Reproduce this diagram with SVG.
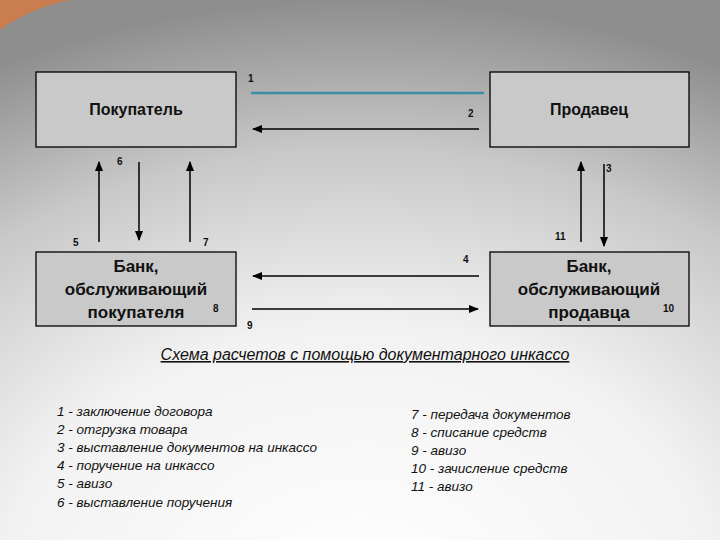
<svg xmlns="http://www.w3.org/2000/svg" width="720" height="540" viewBox="0 0 720 540">
<defs>
<radialGradient id="bg" cx="0.5" cy="1.1" r="1.1">
<stop offset="0" stop-color="#ffffff"/><stop offset="0.45" stop-color="#f2f2f2"/><stop offset="0.75" stop-color="#c8c8c8"/><stop offset="1" stop-color="#8e8e8e"/>
</radialGradient>
<marker id="ah" viewBox="0 0 10 10" refX="9" refY="5" markerWidth="7" markerHeight="7" orient="auto"><path d="M0,1 L10,5 L0,9 z" fill="#000"/></marker>
<style>
.box{fill:#c9c9c9;stroke:#000;stroke-width:1.3}
.nt{font-family:"Liberation Sans",Arial,sans-serif;font-weight:bold;font-size:16px;text-anchor:middle;fill:#111}
.bt{font-family:"Liberation Sans",Arial,sans-serif;font-weight:bold;font-size:17px;text-anchor:middle;fill:#111}
.n{font-family:"Liberation Sans",Arial,sans-serif;font-weight:bold;font-size:10px;fill:#111}
.ln{stroke:#000;stroke-width:1.5;fill:none;marker-end:url(#ah)}
.lg{font-family:"Liberation Sans",Arial,sans-serif;font-style:italic;font-size:13.5px;fill:#111}
</style>
</defs>
<rect width="720" height="540" fill="url(#bg)"/>
<path d="M0,30 C20,15 45,5 70,0 L0,0 z" fill="#d9793f" opacity="0.8"/>
<g id="pokupatel"><rect class="box" x="36" y="72" width="200" height="75"/><text class="nt" x="136" y="115">Покупатель</text></g>
<g id="prodavec"><rect class="box" x="490" y="72" width="199" height="75"/><text class="nt" x="589" y="115">Продавец</text></g>
<g id="bank1"><rect class="box" x="36" y="252" width="200" height="74"/><text class="bt" x="136" y="272">Банк,</text><text class="bt" x="136" y="295">обслуживающий</text><text class="bt" x="136" y="318">покупателя</text></g>
<g id="bank2"><rect class="box" x="490" y="252" width="199" height="74"/><text class="bt" x="589" y="272">Банк,</text><text class="bt" x="589" y="295">обслуживающий</text><text class="bt" x="589" y="318">продавца</text></g>
<g id="connectors">
<line x1="252" y1="93" x2="483" y2="93" stroke="#3a8fa6" stroke-width="2.5" stroke-linecap="round"/>
<line class="ln" x1="479" y1="129" x2="253" y2="129"/>
<line class="ln" x1="99" y1="242" x2="99" y2="162"/>
<line class="ln" x1="139" y1="162" x2="139" y2="240"/>
<line class="ln" x1="190" y1="242" x2="190" y2="162"/>
<line class="ln" x1="581" y1="242" x2="581" y2="162"/>
<line class="ln" x1="604" y1="164" x2="604" y2="246"/>
<line class="ln" x1="479" y1="276" x2="253" y2="276"/>
<line class="ln" x1="252" y1="309" x2="478" y2="309"/>
</g>
<g id="labels">
<text class="n" x="248" y="82">1</text><text class="n" x="468" y="117">2</text>
<text class="n" x="117" y="165">6</text><text class="n" x="606" y="172">3</text>
<text class="n" x="73" y="246">5</text><text class="n" x="203" y="246">7</text>
<text class="n" x="555" y="240">11</text><text class="n" x="463" y="263">4</text>
<text class="n" x="213" y="312">8</text><text class="n" x="247" y="329">9</text>
<text class="n" x="663" y="312">10</text>
</g>
<text x="365" y="360" text-anchor="middle" font-family="'Liberation Sans',Arial,sans-serif" font-style="italic" font-size="16" text-decoration="underline" fill="#111">Схема расчетов с помощью документарного инкассо</text>
<g>
<text class="lg" x="57" y="416">1 - заключение договора</text>
<text class="lg" x="57" y="434">2 - отгрузка товара</text>
<text class="lg" x="57" y="452">3 - выставление документов на инкассо</text>
<text class="lg" x="57" y="470">4 - поручение на инкассо</text>
<text class="lg" x="57" y="488">5 - авизо</text>
<text class="lg" x="57" y="507">6 - выставление поручения</text>
<text class="lg" x="411" y="419">7 - передача документов</text>
<text class="lg" x="411" y="437">8 - списание средств</text>
<text class="lg" x="411" y="455">9 - авизо</text>
<text class="lg" x="411" y="473">10 - зачисление средств</text>
<text class="lg" x="411" y="491">11 - авизо</text>
</g>
</svg>
